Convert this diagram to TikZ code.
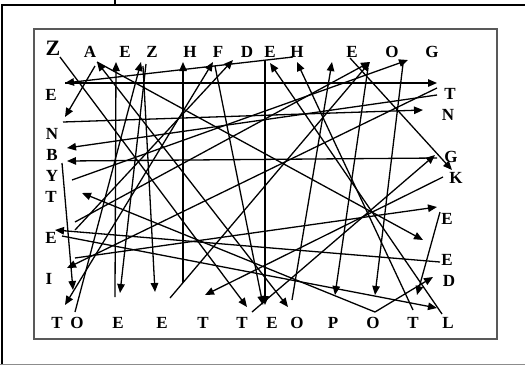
\documentclass[tikz,border=0pt]{standalone}
\usepackage{fontspec}
\setmainfont{Liberation Serif}
\usetikzlibrary{arrows.meta}
\begin{document}
\begin{tikzpicture}[x=1pt,y=-1pt,
  lbl/.style={font=\bfseries\fontsize{17}{17}\selectfont, inner sep=0pt},
  biglbl/.style={font=\bfseries\fontsize{22}{22}\selectfont, inner sep=0pt},
  arr/.style={line width=1.3pt, -{Triangle[length=9pt,width=7.5pt]}},
  darr/.style={line width=1.3pt, {Triangle[length=9pt,width=7.5pt]}-{Triangle[length=9pt,width=7.5pt]}},
  outer/.style={line width=2.6pt, black},
  inner/.style={line width=1.2pt, black!65}
]
\useasboundingbox (0,0) rectangle (525,365);
% frames
\draw[outer] (2,365) -- (2,5) -- (525,5);
\draw[line width=1.5pt] (115,0) -- (115,5);
\draw[line width=1pt, black!45] (0,364) -- (525,364);
\draw[inner] (34,29) rectangle (497,339);
% labels top
\node[biglbl] (tZ) at (53,48) {Z};
\node[lbl] (tA) at (90,52) {A};
\node[lbl] (tE1) at (125,52) {E};
\node[lbl] (tZ2) at (152,52) {Z};
\node[lbl] (tH1) at (190,52) {H};
\node[lbl] (tF) at (218,52) {F};
\node[lbl] (tD) at (247,52) {D};
\node[lbl] (tE2) at (270,52) {E};
\node[lbl] (tH2) at (297,52) {H};
\node[lbl] (tE3) at (352,52) {E};
\node[lbl] (tO) at (392,52) {O};
\node[lbl] (tG) at (432,52) {G};
% left
\node[lbl] (lE1) at (51,95) {E};
\node[lbl] (lN) at (52,134) {N};
\node[lbl] (lB) at (52,155) {B};
\node[lbl] (lY) at (52,176) {Y};
\node[lbl] (lT) at (51,197) {T};
\node[lbl] (lE2) at (51,238) {E};
\node[lbl] (lI) at (49,279) {I};
% right
\node[lbl] (rT) at (450,94) {T};
\node[lbl] (rN) at (448,115) {N};
\node[lbl] (rG) at (451,157) {G};
\node[lbl] (rK) at (456,178) {K};
\node[lbl] (rE1) at (447,219) {E};
\node[lbl] (rE2) at (447,260) {E};
\node[lbl] (rD) at (449,281) {D};
% bottom
\node[lbl] (bT1) at (57,323) {T};
\node[lbl] (bO1) at (77,323) {O};
\node[lbl] (bE1) at (118,323) {E};
\node[lbl] (bE2) at (162,323) {E};
\node[lbl] (bT2) at (203,323) {T};
\node[lbl] (bT3) at (242,323) {T};
\node[lbl] (bE3) at (272,323) {E};
\node[lbl] (bO2) at (297,323) {O};
\node[lbl] (bP) at (333,323) {P};
\node[lbl] (bO3) at (373,323) {O};
\node[lbl] (bT4) at (413,323) {T};
\node[lbl] (bL) at (448,323) {L};
% connector end points
\coordinate (a1s) at (65,83);   \coordinate (a1e) at (437,83);
\coordinate (a2s) at (293,57);  \coordinate (a2e) at (65,83);
\coordinate (a3s) at (95,66);   \coordinate (a3e) at (65,117);
\coordinate (a4s) at (63,122);  \coordinate (a4e) at (423,110);
\coordinate (a5s) at (60,57);   \coordinate (a5e) at (247,307);
\coordinate (a6s) at (97,62);   \coordinate (a6e) at (288,307);
\coordinate (a7s) at (115,297); \coordinate (a7e) at (116,62);
\coordinate (a8s) at (75,312);  \coordinate (a8e) at (141,62);
\coordinate (a9s) at (143,66);  \coordinate (a9e) at (155,292);
\coordinate (a10s) at (183,283);\coordinate (a10e) at (183,62);
\coordinate (a11s) at (265,60); \coordinate (a11e) at (265,305);
\coordinate (a12s) at (350,58); \coordinate (a12e) at (452,170);
\coordinate (a13s) at (403,64); \coordinate (a13e) at (375,295);
\coordinate (a14s) at (437,158);\coordinate (a14e) at (67,161);
\coordinate (a15s) at (62,163); \coordinate (a15e) at (73,290);
\coordinate (a16s) at (75,258); \coordinate (a16e) at (437,207);
\coordinate (a17s) at (437,88); \coordinate (a17e) at (67,268);
\coordinate (a18s) at (252,312);\coordinate (a18e) at (435,155);
\coordinate (a19s) at (75,230); \coordinate (a19e) at (233,60);
\coordinate (a20s) at (375,312);\coordinate (a20e) at (433,277);
\coordinate (a21e) at (82,193);
\coordinate (a22s) at (440,262);\coordinate (a22e) at (55,230);
\coordinate (a23s) at (62,236); \coordinate (a23e) at (437,308);
\coordinate (a24s) at (442,314);\coordinate (a24e) at (270,63);
\coordinate (a25s) at (413,310);\coordinate (a25e) at (297,62);
\coordinate (a26s) at (440,212);\coordinate (a26e) at (417,295);
\coordinate (a27s) at (215,66); \coordinate (a27e) at (263,305);
\coordinate (a28s) at (65,305); \coordinate (a28e) at (213,62);
\coordinate (a29s) at (292,300);\coordinate (a29e) at (332,62);
\coordinate (a30s) at (75,222); \coordinate (a30e) at (370,62);
\coordinate (a31s) at (368,68); \coordinate (a31e) at (335,295);
\coordinate (a32s) at (72,180); \coordinate (a32e) at (408,60);
\coordinate (a33s) at (437,95); \coordinate (a33e) at (67,148);
\coordinate (a34s) at (170,298);
\coordinate (a35s) at (443,177);\coordinate (a35e) at (205,295);
\coordinate (a36e) at (423,240);
\coordinate (a37s) at (146,64); \coordinate (a37e) at (120,293);
% connectors
\draw[arr] (a1s) -- (a1e);
\draw[arr] (a2s) -- (a2e);
\draw[arr] (a3s) -- (a3e);
\draw[arr] (a4s) -- (a4e);
\draw[arr] (a5s) -- (a5e);
\draw[darr] (a6s) -- (a6e);
\draw[arr] (a7s) -- (a7e);
\draw[arr] (a8s) -- (a8e);
\draw[arr] (a9s) -- (a9e);
\draw[arr] (a10s) -- (a10e);
\draw[arr] (a11s) -- (a11e);
\draw[arr] (a12s) -- (a12e);
\draw[arr] (a13s) -- (a13e);
\draw[arr] (a14s) -- (a14e);
\draw[arr] (a15s) -- (a15e);
\draw[arr] (a16s) -- (a16e);
\draw[arr] (a17s) -- (a17e);
\draw[arr] (a18s) -- (a18e);
\draw[arr] (a19s) -- (a19e);
\draw[arr] (a20s) -- (a20e);
\draw[arr] (a20s) -- (a21e);
\draw[arr] (a22s) -- (a22e);
\draw[arr] (a23s) -- (a23e);
\draw[arr] (a24s) -- (a24e);
\draw[arr] (a25s) -- (a25e);
\draw[arr] (a26s) -- (a26e);
\draw[arr] (a27s) -- (a27e);
\draw[darr] (a28s) -- (a28e);
\draw[arr] (a29s) -- (a29e);
\draw[arr] (a30s) -- (a30e);
\draw[arr] (a31s) -- (a31e);
\draw[arr] (a32s) -- (a32e);
\draw[arr] (a33s) -- (a33e);
\draw[arr] (a34s) -- (a30e);
\draw[arr] (a35s) -- (a35e);
\draw[arr] (a6s) -- (a36e);
\draw[arr] (a37s) -- (a37e);
\end{tikzpicture}
\end{document}
